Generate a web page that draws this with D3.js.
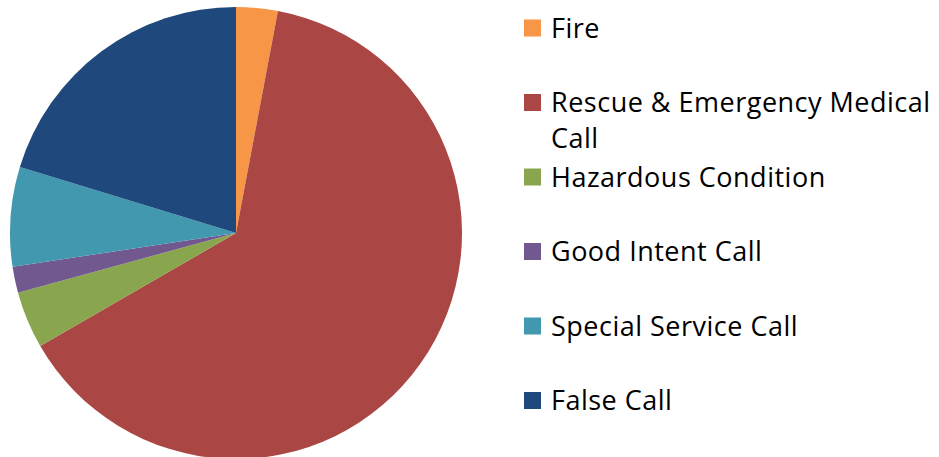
<!DOCTYPE html>
<html>
<head>
<meta charset="utf-8">
<script src="https://cdn.jsdelivr.net/npm/d3@7"></script>
<style>
  body { margin: 0; background: #fff; }
  svg { display: block; }
</style>
</head>
<body>
<svg width="939" height="457"></svg>
<script>
const categories = [
  "Fire",
  "Rescue & Emergency Medical Call",
  "Hazardous Condition",
  "Good Intent Call",
  "Special Service Call",
  "False Call",
];
// share of calls (%)
const values = [2.97, 63.7, 4.08, 1.86, 7.11, 20.28];
const colors = ["#F79646", "#AA4643", "#89A54E", "#71588F", "#4198AF", "#1F497D"];

// legend label lines (Rescue wraps onto two lines)
const legendLines = [
  ["Fire"],
  ["Rescue & Emergency Medical", "Call"],
  ["Hazardous Condition"],
  ["Good Intent Call"],
  ["Special Service Call"],
  ["False Call"],
];

const svg = d3.select("svg");
const cx = 236, cy = 233, radius = 226;

const color = d3.scaleOrdinal().domain(categories).range(colors);

const pie = d3.pie().sort(null).value((d) => d.value);
const arc = d3.arc().innerRadius(0).outerRadius(radius);

const data = categories.map((name, i) => ({ name, value: values[i] }));

svg
  .append("g")
  .attr("transform", `translate(${cx}, ${cy})`)
  .selectAll("path")
  .data(pie(data))
  .enter()
  .append("path")
  .attr("d", arc)
  .attr("fill", (d) => color(d.data.name));

// Legend
const legendY = d3.scalePoint().domain(categories).range([37.5, 410]);
const items = svg
  .append("g")
  .selectAll("g")
  .data(categories)
  .enter()
  .append("g")
  .attr("transform", (d) => `translate(524, ${legendY(d)})`);

items
  .append("rect")
  .attr("x", 0)
  .attr("y", -18)
  .attr("width", 17)
  .attr("height", 17)
  .attr("fill", (d) => color(d));

items
  .append("text")
  .attr("x", 27)
  .attr("font-family", "'Open Sans', sans-serif")
  .attr("font-size", 27)
  .attr("letter-spacing", 0.5)
  .attr("fill", "#000")
  .selectAll("tspan")
  .data((d, i) => legendLines[i])
  .enter()
  .append("tspan")
  .attr("x", 27)
  .attr("dy", (d, i) => (i === 0 ? 0 : 36))
  .text((d) => d);
</script>
</body>
</html>
